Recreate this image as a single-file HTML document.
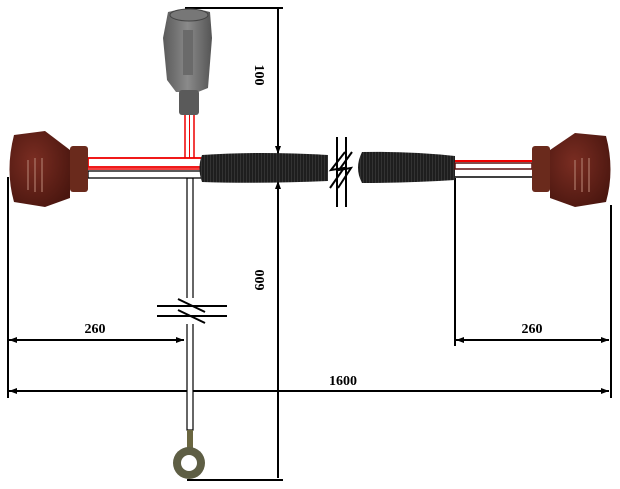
<!DOCTYPE html>
<html><head><meta charset="utf-8"><style>
html,body{margin:0;padding:0;background:#fff;width:620px;height:489px;overflow:hidden}
text{font-family:"Liberation Serif",serif;font-weight:bold;font-size:14px;fill:#000}
</style></head><body>
<svg width="620" height="489" viewBox="0 0 620 489" xmlns="http://www.w3.org/2000/svg">
<defs>
<marker id="a" markerWidth="8" markerHeight="6" refX="8" refY="3" orient="auto-start-reverse" markerUnits="userSpaceOnUse"><path d="M0,0 L8,3 L0,6z" fill="#000"/></marker>
<pattern id="cor" width="3" height="30" patternUnits="userSpaceOnUse"><rect width="3" height="30" fill="#1e1e1e"/><rect width="1" height="30" fill="#333"/></pattern>
<radialGradient id="br" cx="0.4" cy="0.4" r="0.7"><stop offset="0" stop-color="#7a2d22"/><stop offset="1" stop-color="#4a160f"/></radialGradient>
<linearGradient id="gr" x1="0" x2="1"><stop offset="0" stop-color="#5a5a5a"/><stop offset="0.5" stop-color="#8a8a8a"/><stop offset="1" stop-color="#555"/></linearGradient>
</defs>
<g stroke="#000" stroke-width="2" fill="none">
<line x1="185" y1="8" x2="283" y2="8"/>
<line x1="278" y1="9" x2="278" y2="154" marker-end="url(#a)"/>
<line x1="278" y1="478" x2="278" y2="181" marker-end="url(#a)"/>
<line x1="187" y1="480" x2="283" y2="480"/>
<line x1="8" y1="177" x2="8" y2="398"/>
<line x1="611" y1="205" x2="611" y2="398"/>
<line x1="455" y1="178" x2="455" y2="346"/>
<line x1="9" y1="340" x2="184" y2="340" marker-start="url(#a)" marker-end="url(#a)"/>
<line x1="456" y1="340" x2="609" y2="340" marker-start="url(#a)" marker-end="url(#a)"/>
<line x1="9" y1="391" x2="609" y2="391" marker-start="url(#a)" marker-end="url(#a)"/>
</g>
<text x="95" y="333" text-anchor="middle">260</text>
<text x="532" y="333" text-anchor="middle">260</text>
<text x="343" y="385" text-anchor="middle">1600</text>
<text transform="translate(255,75) rotate(90)" text-anchor="middle">100</text>
<text transform="translate(264,280) rotate(-90)" text-anchor="middle">600</text>
<rect x="187" y="178" width="6" height="252" fill="#fff" stroke="#000" stroke-width="1.2"/>
<rect x="184" y="298" width="12" height="26" fill="#fff"/>
<g stroke="#000" stroke-width="2">
<line x1="157" y1="306" x2="227" y2="306"/><line x1="157" y1="316" x2="227" y2="316"/>
<line x1="178" y1="299" x2="205" y2="312"/><line x1="178" y1="310" x2="205" y2="323"/>
</g>
<rect x="187" y="430" width="6" height="20" fill="#6a6640"/>
<circle cx="189" cy="463" r="16" fill="#5e5e44"/>
<circle cx="189" cy="463" r="8" fill="#fff"/>
<rect x="185" y="113" width="9" height="50" fill="#fff" stroke="#e00" stroke-width="1.5"/>
<line x1="189.5" y1="113" x2="189.5" y2="160" stroke="#e00" stroke-width="1"/>
<rect x="88" y="158" width="118" height="9" fill="#fff" stroke="#e00" stroke-width="1.8"/>
<line x1="88" y1="169" x2="206" y2="169" stroke="#e00" stroke-width="1.5"/>
<rect x="88" y="171" width="118" height="7" fill="#fff" stroke="#000" stroke-width="1.3"/>
<path d="M202,155 Q260,151 328,155 L328,181 Q260,184 202,182 Q197,168 202,155z" fill="url(#cor)"/>
<path d="M362,152 Q410,151 455,156 L455,180 Q410,183 362,183 Q354,168 362,152z" fill="url(#cor)"/>
<g stroke="#000" stroke-width="2">
<line x1="337" y1="137" x2="337" y2="207"/><line x1="346" y1="137" x2="346" y2="207"/>
<path d="M345,152 L331,170 L344,168 L330,188" fill="none"/>
<path d="M352,152 L339,170 L351,168 L338,188" fill="none"/>
</g>
<line x1="455" y1="161" x2="532" y2="161" stroke="#e00" stroke-width="2"/>
<rect x="455" y="163" width="77" height="6" fill="#fff" stroke="#5a1010" stroke-width="1.5"/>
<line x1="455" y1="177" x2="532" y2="177" stroke="#000" stroke-width="1.5"/>
<path d="M14,135 L45,131 L70,150 L70,198 L45,207 L14,202 Q5,170 14,135z" fill="url(#br)"/>
<rect x="70" y="146" width="18" height="46" rx="3" fill="#6a2a1c"/>
<g stroke="#a0685a" stroke-width="1.5"><line x1="28" y1="160" x2="28" y2="190"/><line x1="35" y1="158" x2="35" y2="192"/><line x1="42" y1="158" x2="42" y2="192"/></g>
<path d="M606,136 L575,133 L550,150 L550,198 L575,207 L606,202 Q615,170 606,136z" fill="url(#br)"/>
<rect x="532" y="146" width="18" height="46" rx="3" fill="#6a2a1c"/>
<g stroke="#a0685a" stroke-width="1.5"><line x1="575" y1="160" x2="575" y2="190"/><line x1="582" y1="158" x2="582" y2="192"/><line x1="589" y1="158" x2="589" y2="192"/></g>
<path d="M168,12 Q190,6 210,12 L212,38 L208,88 L198,92 L176,92 L167,80 L163,38z" fill="url(#gr)"/>
<rect x="179" y="90" width="20" height="25" rx="3" fill="#5a5a5a"/>
<ellipse cx="189" cy="15" rx="19" ry="6" fill="#777" stroke="#444"/>
<rect x="183" y="30" width="10" height="45" fill="#6a6a6a"/>
</svg>
</body></html>
